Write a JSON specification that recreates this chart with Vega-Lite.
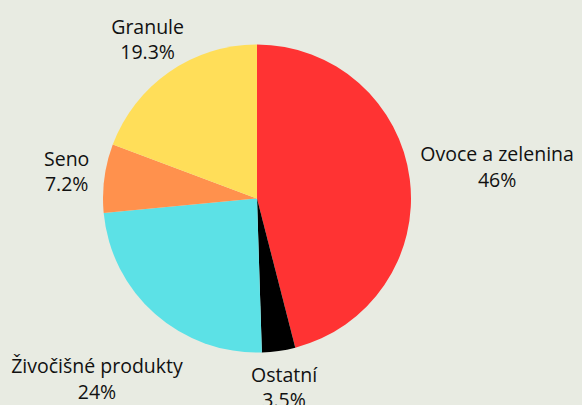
{
  "$schema": "https://vega.github.io/schema/vega-lite/v6.json",
  "width": 514,
  "height": 397,
  "autosize": {"type": "none"},
  "padding": {"left": 0, "top": 0, "right": 68, "bottom": 8},
  "background": "#e8ebe2",
  "config": {"view": {"stroke": null}, "font": "Open Sans", "text": {"font": "Open Sans"}},
  "data": {
    "values": [
      {"kategorie": "Ovoce a zelenina", "podil": 46, "popisek": "46%", "poradi": 1},
      {"kategorie": "Ostatní", "podil": 3.5, "popisek": "3.5%", "poradi": 2},
      {"kategorie": "Živočišné produkty", "podil": 24, "popisek": "24%", "poradi": 3},
      {"kategorie": "Seno", "podil": 7.2, "popisek": "7.2%", "poradi": 4},
      {"kategorie": "Granule", "podil": 19.3, "popisek": "19.3%", "poradi": 5}
    ]
  },
  "encoding": {
    "theta": {"field": "podil", "type": "quantitative", "stack": true},
    "order": {"field": "poradi", "type": "quantitative"},
    "color": {
      "field": "kategorie",
      "type": "nominal",
      "scale": {
        "domain": ["Ovoce a zelenina", "Ostatní", "Živočišné produkty", "Seno", "Granule"],
        "range": ["#ff3333", "#000000", "#5ce1e6", "#ff914d", "#ffde59"]
      },
      "legend": null
    }
  },
  "layer": [
    {"mark": {"type": "arc", "radius": 154}},
    {
      "mark": {"type": "text", "radius": 192, "dy": -13, "fontSize": 19.5, "color": "#111111"},
      "encoding": {
        "text": {"field": "kategorie"},
        "color": {"value": "#111111"},
        "opacity": {"condition": {"test": "indexof(['Ostatní','Seno','Granule'], datum.kategorie) >= 0", "value": 1}, "value": 0}
      }
    },
    {
      "mark": {"type": "text", "radius": 192, "dy": 12, "fontSize": 19.5, "color": "#111111"},
      "encoding": {
        "text": {"field": "popisek"},
        "color": {"value": "#111111"},
        "opacity": {"condition": {"test": "indexof(['Ostatní','Seno','Granule'], datum.kategorie) >= 0", "value": 1}, "value": 0}
      }
    },
    {
      "mark": {"type": "text", "radius": 242, "dy": -13, "fontSize": 19.5, "color": "#111111"},
      "encoding": {
        "text": {"field": "kategorie"},
        "color": {"value": "#111111"},
        "opacity": {"condition": {"test": "indexof(['Ovoce a zelenina','Živočišné produkty'], datum.kategorie) >= 0", "value": 1}, "value": 0}
      }
    },
    {
      "mark": {"type": "text", "radius": 242, "dy": 13, "fontSize": 19.5, "color": "#111111"},
      "encoding": {
        "text": {"field": "popisek"},
        "color": {"value": "#111111"},
        "opacity": {"condition": {"test": "indexof(['Ovoce a zelenina','Živočišné produkty'], datum.kategorie) >= 0", "value": 1}, "value": 0}
      }
    }
  ]
}
